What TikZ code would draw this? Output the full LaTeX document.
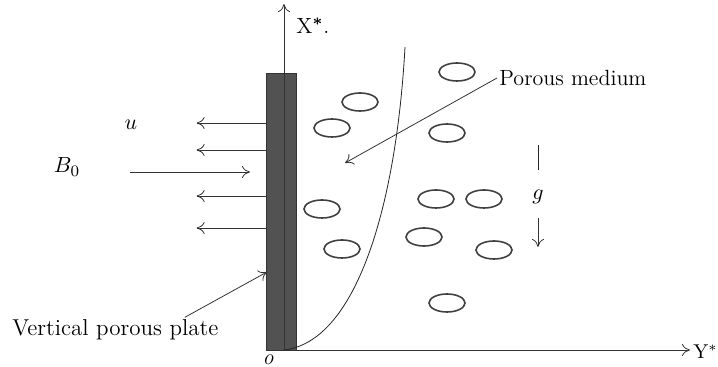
\documentclass[tikz,border=0pt]{standalone}
\usepackage{amsmath}
\usetikzlibrary{arrows.meta,shapes.geometric}

\begin{document}
\begin{tikzpicture}[
  x=0.5pt, y=-0.5pt,
  lbl/.style={font=\fontsize{11}{13}\selectfont, inner sep=1pt},
  pore/.style={draw=black!75, thick, ellipse, minimum width=18pt, minimum height=9pt, inner sep=0pt},
  plate/.style={draw=black!80, fill=black!68, minimum width=15pt, minimum height=138.5pt, inner sep=0pt},
  arr/.style={-{To[length=4pt,width=6pt]}, thin, black!80},
]
  \useasboundingbox (0,0) rectangle (718,367);

  % plate and axes
  \node[plate] (plate) at (281,211.5) {};
  \coordinate (O) at (284,350);
  \coordinate (xtop) at (284,4);
  \coordinate (yend) at (690,350);
  \draw[arr] (O) -- (xtop);
  \draw[arr] (O) -- (yend);
  \node[lbl, anchor=west] (xlab) at (294,26) {X$^{\boldsymbol *}$.};
  \node[lbl, anchor=east, inner sep=0pt, font=\fontsize{10}{12}\selectfont] (ylab) at (718,352) {Y$^{*}$};
  \node[lbl, font=\fontsize{11}{13}\selectfont\itshape] (olab) at (268,360) {o};

  % boundary layer curve
  \coordinate (ctop) at (405,47);
  \draw[black!85] (O) .. controls (355,342) and (396,210) .. (ctop);

  % suction velocity and magnetic field
  \foreach \y in {123,150,196,228}
    \draw[arr] (plate.west |- 0,\y) -- ++(-69,0);
  \node[lbl] (u) at (131,125) {$u$};
  \node[lbl] (B) at (67,167) {$B_0$};
  \coordinate (Bend) at (250,172);
  \draw[arr] (130,172) coordinate (Bstart) -- (Bend);

  % pores
  \foreach \px/\py [count=\i] in {457/72, 360/102, 332/128, 447/133, 322/209, 436/199,
                                   484/199, 424/237, 342/249, 494/250, 447/303}
    \node[pore] (p\i) at (\px,\py) {};

  % gravity
  \node[lbl] (g) at (538,197) {$g$};
  \draw[black!85] (g.north |- 0,145) -- (g.north |- 0,170);
  \draw[arr] (g.south |- 0,218) -- (g.south |- 0,247);

  % labels
  \node[lbl, anchor=west] (pm) at (497,78) {Porous medium};
  \coordinate (pmtip) at (345,163);
  \draw[arr] (pm.west) -- (pmtip);
  \node[lbl, anchor=west, font=\fontsize{11.5}{13}\selectfont] (vpp) at (10,330) {Vertical porous plate};
  \coordinate (vpptip) at (267,272);
  \draw[arr] ([xshift=-18pt]vpp.north east) -- (vpptip);
\end{tikzpicture}
\end{document}
